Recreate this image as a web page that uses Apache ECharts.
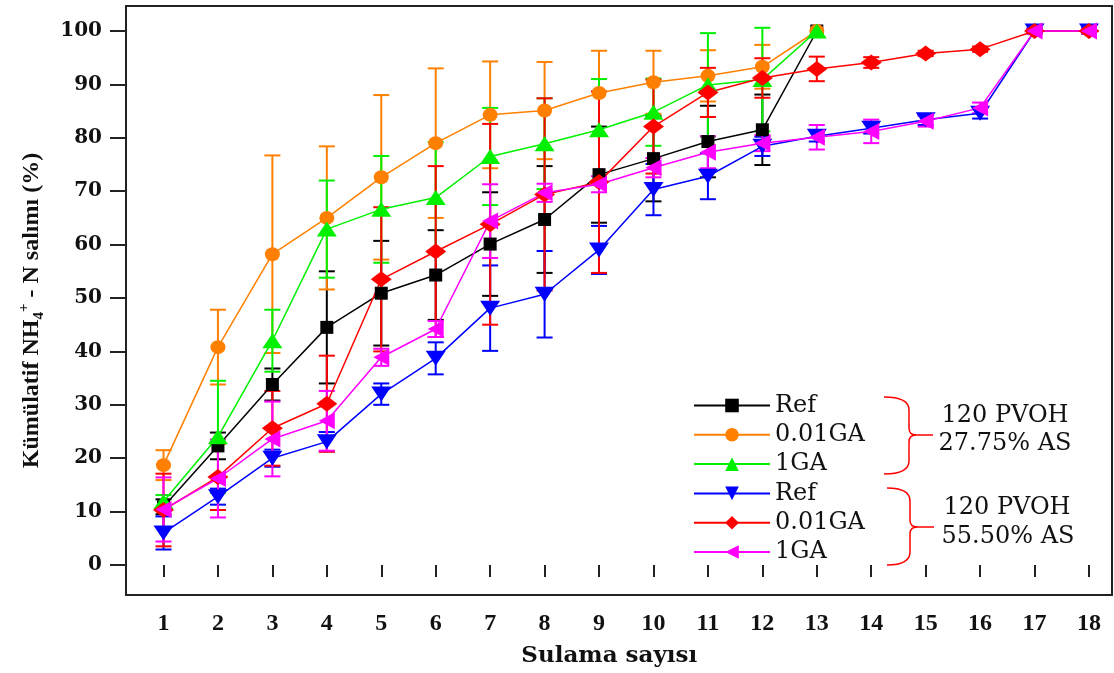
<!DOCTYPE html>
<html>
<head>
<meta charset="utf-8">
<script src="https://cdn.jsdelivr.net/npm/echarts@6/dist/echarts.min.js"></script>
<style>html,body{margin:0;padding:0;background:#fff}#c{width:1114px;height:673px}</style>
</head>
<body>
<div id="c"></div>
<script>
// ---- data ----
const irrigations = [1,2,3,4,5,6,7,8,9,10,11,12,13,14,15,16,17,18];
const yTickValues = [0,10,20,30,40,50,60,70,80,90,100];

// 120 PVOH 27.75% AS
const refA      = [10.9, 22.3, 33.8, 44.5, 50.9, 54.3, 60.1, 64.7, 73.1, 76.1, 79.3, 81.5, 100];
const refAErr   = [1.4, 2.5, 3.0, 10.5, 9.8, 8.4, 9.7, 10.0, 9.0, 8.0, 6.7, 6.6, 0];
const ga001A    = [18.7, 40.8, 58.2, 65.0, 72.6, 79.0, 84.3, 85.1, 88.4, 90.4, 91.6, 93.3, 100];
const ga001AErr = [2.8, 7.0, 18.5, 13.4, 15.4, 14.0, 10.0, 9.1, 7.9, 5.9, 4.8, 4.1, 0];
const ga1A      = [11.9, 24.0, 42.0, 62.9, 66.6, 68.8, 76.5, 78.9, 81.5, 84.8, 89.9, 90.9, 100];
const ga1AErr   = [1.2, 10.5, 5.8, 9.1, 10.0, 10.4, 9.1, 8.5, 9.5, 6.3, 9.7, 9.7, 0];

// 120 PVOH 55.50% AS
const refB      = [6.0, 12.8, 20.0, 23.1, 32.0, 38.7, 48.1, 50.7, 59.0, 70.3, 72.8, 78.4, 80.3, 81.8, 83.4, 84.6, 100, 100];
const refBErr   = [3.1, 1.5, 1.6, 1.8, 2.0, 3.0, 8.0, 8.1, 4.5, 4.8, 4.3, 1.8, 1.0, 1.0, 1.0, 1.0, 0.5, 0.5];
const ga001B    = [10.3, 16.5, 25.6, 30.2, 53.5, 58.7, 63.8, 69.4, 71.7, 82.1, 88.5, 91.2, 92.9, 94.1, 95.8, 96.6, 100, 100];
const ga001BErr = [6.8, 6.2, 7.0, 9.0, 13.5, 16.0, 18.8, 18.0, 17.0, 8.8, 4.6, 3.7, 2.3, 1.0, 0.5, 0.5, 0.3, 0.3];
const ga1B      = [10.4, 16.2, 23.6, 27.0, 38.9, 44.2, 64.4, 69.7, 71.3, 74.4, 77.3, 79.0, 80.1, 81.2, 83.1, 85.6, 100, 100];
const ga1BErr   = [6.0, 7.3, 7.0, 5.6, 1.6, 1.5, 6.9, 1.7, 1.5, 1.8, 3.0, 1.5, 2.3, 2.2, 1.0, 1.0, 0.5, 0.5];

const seriesNames  = ['Ref A', '0.01GA A', '1GA A', 'Ref B', '0.01GA B', '1GA B'];
const legendLabels = ['Ref', '0.01GA', '1GA', 'Ref', '0.01GA', '1GA'];
const groupLabels  = [['120 PVOH', '27.75% AS'], ['120 PVOH', '55.50% AS']];

// ---- styles ----
const defs = [
  {vals: refA,   errs: refAErr,   color: '#000000', symbol: 'rect',     size: [13, 13], rot: 0},
  {vals: ga001A, errs: ga001AErr, color: '#FF8000', symbol: 'circle',   size: [15, 14], rot: 0},
  {vals: ga1A,   errs: ga1AErr,   color: '#00F000', symbol: 'triangle', size: [20, 15], rot: 0},
  {vals: refB,   errs: refBErr,   color: '#0000FF', symbol: 'triangle', size: [20, 15], rot: 180},
  {vals: ga001B, errs: ga001BErr, color: '#FF0000', symbol: 'diamond',  size: [21, 16], rot: 0},
  {vals: ga1B,   errs: ga1BErr,   color: '#FF00FF', symbol: 'triangle', size: [17, 16], rot: 90}
];

function errRender(color) {
  return function (params, api) {
    const x = api.value(0), y = api.value(1), e = api.value(2);
    if (!e) return null;
    const t = api.coord([x, y + e]);
    const b = api.coord([x, y - e]);
    const hw = 8;
    const style = {stroke: color, lineWidth: 2};
    return {type: 'group', children: [
      {type: 'line', shape: {x1: t[0], y1: t[1], x2: b[0], y2: b[1]}, style: style},
      {type: 'line', shape: {x1: t[0] - hw, y1: t[1], x2: t[0] + hw, y2: t[1]}, style: style},
      {type: 'line', shape: {x1: b[0] - hw, y1: b[1], x2: b[0] + hw, y2: b[1]}, style: style}
    ]};
  };
}

const series = [];
defs.forEach(function (d, k) {
  const pts = d.vals.map(function (v, i) { return [irrigations[i], v, d.errs[i]]; });
  series.push({
    type: 'custom', name: seriesNames[k] + ' err', xAxisIndex: 0, yAxisIndex: 0,
    renderItem: errRender(d.color), data: pts, z: 2, clip: false, silent: true
  });
});
defs.forEach(function (d, k) {
  series.push({
    type: 'line', name: seriesNames[k], xAxisIndex: 0, yAxisIndex: 0,
    data: d.vals.map(function (v, i) { return [irrigations[i], v]; }),
    symbol: d.symbol, symbolSize: d.size, symbolRotate: d.rot, showAllSymbol: true,
    lineStyle: {color: d.color, width: 1.5},
    itemStyle: {color: d.color},
    z: 3, clip: false
  });
});

const serif = 'Liberation Serif';
const wide = 'DejaVu Serif';

const braceStyle = {stroke: '#FF0000', lineWidth: 1.5, fill: null};
function brace(xL, xV, xTip, yT, yM, yB) {
  const r = 13, r2 = 7;
  return [
    {type: 'bezierCurve', shape: {x1: xL, y1: yT, cpx1: xV, cpy1: yT, x2: xV, y2: yT + r}, style: braceStyle},
    {type: 'line', shape: {x1: xV, y1: yT + r, x2: xV, y2: yM - r2}, style: braceStyle},
    {type: 'bezierCurve', shape: {x1: xV, y1: yM - r2, cpx1: xV, cpy1: yM, x2: xV + r2, y2: yM}, style: braceStyle},
    {type: 'line', shape: {x1: xV + r2, y1: yM, x2: xTip, y2: yM}, style: braceStyle},
    {type: 'bezierCurve', shape: {x1: xV + r2, y1: yM, cpx1: xV, cpy1: yM, x2: xV, y2: yM + r2}, style: braceStyle},
    {type: 'line', shape: {x1: xV, y1: yM + r2, x2: xV, y2: yB - r}, style: braceStyle},
    {type: 'bezierCurve', shape: {x1: xV, y1: yB - r, cpx1: xV, cpy1: yB, x2: xL, y2: yB}, style: braceStyle}
  ];
}
const textStyleG = {fontFamily: wide, fontSize: 24, fill: '#111', align: 'center', verticalAlign: 'middle'};
const graphics = [].concat(
  brace(884, 909, 933, 397, 435, 474),
  brace(887, 910, 934, 488, 527, 565),
  [
    {type: 'text', x: 1005, y: 416, style: Object.assign({text: groupLabels[0][0]}, textStyleG)},
    {type: 'text', x: 1005, y: 444, style: Object.assign({text: groupLabels[0][1]}, textStyleG)},
    {type: 'text', x: 1007, y: 508, style: Object.assign({text: groupLabels[1][0]}, textStyleG)},
    {type: 'text', x: 1008, y: 537, style: Object.assign({text: groupLabels[1][1]}, textStyleG)}
  ]
);

const option = {
  animation: false,
  backgroundColor: '#fff',
  grid: [
    {left: 163.5, right: 25, top: 31, bottom: 106, show: false},
    {left: 126, right: 2, top: 6, bottom: 78, show: true, borderColor: '#222', borderWidth: 2, backgroundColor: 'transparent'}
  ],
  xAxis: [
    {
      type: 'value', gridIndex: 0, min: 1, max: 18, interval: 1, offset: 28,
      axisLine: {show: false},
      axisTick: {show: true, inside: false, length: 12, lineStyle: {color: '#222', width: 2}},
      splitLine: {show: false},
      axisLabel: {margin: 19, fontFamily: serif, fontWeight: 'bold', fontSize: 24, color: '#111'},
      name: 'Sulama sayısı', nameLocation: 'middle', nameGap: 52,
      nameTextStyle: {fontFamily: wide, fontWeight: 'bold', fontSize: 23, color: '#111', padding: [0, 34, 0, 0]}
    },
    {type: 'value', gridIndex: 1, show: false, min: 0, max: 1}
  ],
  yAxis: [
    {
      type: 'value', gridIndex: 0, min: yTickValues[0], max: yTickValues[yTickValues.length - 1], interval: 10, offset: 37.5,
      axisLine: {show: false},
      axisTick: {show: true, inside: false, length: 16, lineStyle: {color: '#222', width: 2}},
      splitLine: {show: false},
      axisLabel: {margin: 24, fontFamily: wide, fontWeight: 'bold', fontSize: 20, color: '#111'},
      name: '{a|Kümülatif NH}{s|4}{p|+}{a| - N salımı (%)}',
      nameLocation: 'middle', nameGap: 79,
      nameTextStyle: {
        color: '#111',
        padding: [0, 25, 0, 0],
        rich: {
          a: {fontFamily: serif, fontWeight: 'bold', fontSize: 24, lineHeight: 30, color: '#111'},
          s: {fontFamily: serif, fontWeight: 'bold', fontSize: 15, lineHeight: 30, verticalAlign: 'bottom', color: '#111'},
          p: {fontFamily: serif, fontWeight: 'bold', fontSize: 15, lineHeight: 30, verticalAlign: 'top', color: '#111'}
        }
      }
    },
    {type: 'value', gridIndex: 1, show: false, min: 0, max: 1}
  ],
  legend: {
    data: seriesNames, orient: 'vertical', left: 693, top: 391, padding: 0,
    itemWidth: 76, itemHeight: 17, itemGap: 0.3, selectedMode: false,
    formatter: function (n) { return legendLabels[seriesNames.indexOf(n)]; },
    textStyle: {fontFamily: wide, fontSize: 24, color: '#111', lineHeight: 29}
  },
  graphic: graphics,
  series: series
};

const chart = echarts.init(document.getElementById('c'), null, {renderer: 'canvas'});
chart.setOption(option);
</script>
</body>
</html>
